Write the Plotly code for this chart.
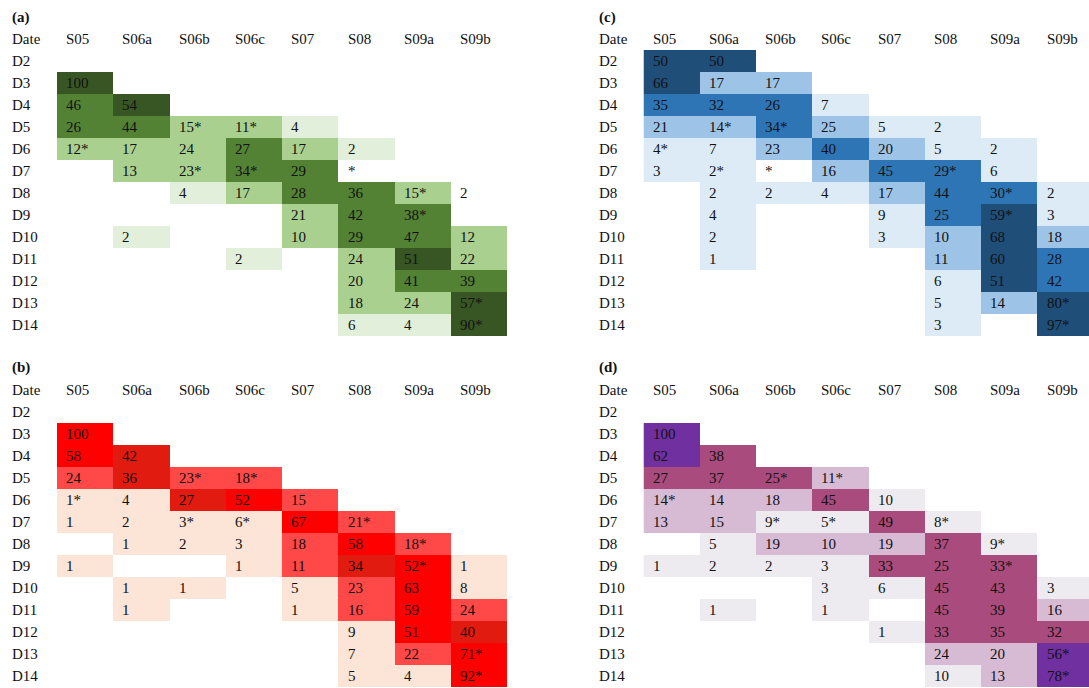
import plotly.graph_objects as go

N = None

COLUMNS = ["S05", "S06a", "S06b", "S06c", "S07", "S08", "S09a", "S09b"]
DATES = ["D2", "D3", "D4", "D5", "D6", "D7", "D8", "D9", "D10", "D11", "D12", "D13", "D14"]

# ---- (a) -------------------------------------------------------------
A_VALUES = [
    [N, N, N, N, N, N, N, N],
    [100, N, N, N, N, N, N, N],
    [46, 54, N, N, N, N, N, N],
    [26, 44, 15, 11, 4, N, N, N],
    [12, 17, 24, 27, 17, 2, N, N],
    [N, 13, 23, 34, 29, N, N, N],
    [N, N, 4, 17, 28, 36, 15, 2],
    [N, N, N, N, 21, 42, 38, N],
    [N, 2, N, N, 10, 29, 47, 12],
    [N, N, N, 2, N, 24, 51, 22],
    [N, N, N, N, N, 20, 41, 39],
    [N, N, N, N, N, 18, 24, 57],
    [N, N, N, N, N, 6, 4, 90],
]
A_LEVELS = [
    [0, 0, 0, 0, 0, 0, 0, 0],
    [4, 0, 0, 0, 0, 0, 0, 0],
    [3, 4, 0, 0, 0, 0, 0, 0],
    [3, 3, 2, 2, 1, 0, 0, 0],
    [2, 2, 2, 3, 2, 1, 0, 0],
    [0, 2, 2, 3, 3, 0, 0, 0],
    [0, 0, 1, 2, 3, 3, 2, 0],
    [0, 0, 0, 0, 2, 3, 3, 0],
    [0, 1, 0, 0, 2, 3, 3, 2],
    [0, 0, 0, 1, 0, 2, 4, 2],
    [0, 0, 0, 0, 0, 2, 3, 3],
    [0, 0, 0, 0, 0, 2, 2, 4],
    [0, 0, 0, 0, 0, 1, 1, 4],
]
A_STARS = [("D5", "S06b"), ("D5", "S06c"), ("D6", "S05"), ("D7", "S06b"), ("D7", "S06c"),
           ("D7", "S08"), ("D8", "S09a"), ("D9", "S09a"), ("D13", "S09b"), ("D14", "S09b")]

# ---- (b) -------------------------------------------------------------
B_VALUES = [
    [N, N, N, N, N, N, N, N],
    [100, N, N, N, N, N, N, N],
    [58, 42, N, N, N, N, N, N],
    [24, 36, 23, 18, N, N, N, N],
    [1, 4, 27, 52, 15, N, N, N],
    [1, 2, 3, 6, 67, 21, N, N],
    [N, 1, 2, 3, 18, 58, 18, N],
    [1, N, N, 1, 11, 34, 52, 1],
    [N, 1, 1, N, 5, 23, 63, 8],
    [N, 1, N, N, 1, 16, 59, 24],
    [N, N, N, N, N, 9, 51, 40],
    [N, N, N, N, N, 7, 22, 71],
    [N, N, N, N, N, 5, 4, 92],
]
B_LEVELS = [
    [0, 0, 0, 0, 0, 0, 0, 0],
    [4, 0, 0, 0, 0, 0, 0, 0],
    [4, 3, 0, 0, 0, 0, 0, 0],
    [2, 3, 2, 2, 0, 0, 0, 0],
    [1, 1, 3, 4, 2, 0, 0, 0],
    [1, 1, 1, 1, 4, 2, 0, 0],
    [0, 1, 1, 1, 2, 4, 2, 0],
    [1, 0, 0, 1, 2, 3, 4, 1],
    [0, 1, 1, 0, 1, 2, 4, 1],
    [0, 1, 0, 0, 1, 2, 4, 2],
    [0, 0, 0, 0, 0, 1, 4, 3],
    [0, 0, 0, 0, 0, 1, 2, 4],
    [0, 0, 0, 0, 0, 1, 1, 4],
]
B_STARS = [("D5", "S06b"), ("D5", "S06c"), ("D6", "S05"), ("D7", "S06b"), ("D7", "S06c"),
           ("D7", "S08"), ("D8", "S09a"), ("D9", "S09a"), ("D13", "S09b"), ("D14", "S09b")]

# ---- (c) -------------------------------------------------------------
C_VALUES = [
    [50, 50, N, N, N, N, N, N],
    [66, 17, 17, N, N, N, N, N],
    [35, 32, 26, 7, N, N, N, N],
    [21, 14, 34, 25, 5, 2, N, N],
    [4, 7, 23, 40, 20, 5, 2, N],
    [3, 2, N, 16, 45, 29, 6, N],
    [N, 2, 2, 4, 17, 44, 30, 2],
    [N, 4, N, N, 9, 25, 59, 3],
    [N, 2, N, N, 3, 10, 68, 18],
    [N, 1, N, N, N, 11, 60, 28],
    [N, N, N, N, N, 6, 51, 42],
    [N, N, N, N, N, 5, 14, 80],
    [N, N, N, N, N, 3, N, 97],
]
C_LEVELS = [
    [4, 4, 0, 0, 0, 0, 0, 0],
    [4, 2, 2, 0, 0, 0, 0, 0],
    [3, 3, 3, 1, 0, 0, 0, 0],
    [2, 2, 3, 2, 1, 1, 0, 0],
    [1, 1, 2, 3, 2, 1, 1, 0],
    [1, 1, 0, 2, 3, 3, 1, 0],
    [0, 1, 1, 1, 2, 3, 3, 1],
    [0, 1, 0, 0, 1, 3, 4, 1],
    [0, 1, 0, 0, 1, 2, 4, 2],
    [0, 1, 0, 0, 0, 2, 4, 3],
    [0, 0, 0, 0, 0, 1, 4, 3],
    [0, 0, 0, 0, 0, 1, 2, 4],
    [0, 0, 0, 0, 0, 1, 0, 4],
]
C_STARS = [("D5", "S06a"), ("D5", "S06b"), ("D6", "S05"), ("D7", "S06a"), ("D7", "S06b"),
           ("D7", "S08"), ("D8", "S09a"), ("D9", "S09a"), ("D13", "S09b"), ("D14", "S09b")]

# ---- (d) -------------------------------------------------------------
D_VALUES = [
    [N, N, N, N, N, N, N, N],
    [100, N, N, N, N, N, N, N],
    [62, 38, N, N, N, N, N, N],
    [27, 37, 25, 11, N, N, N, N],
    [14, 14, 18, 45, 10, N, N, N],
    [13, 15, 9, 5, 49, 8, N, N],
    [N, 5, 19, 10, 19, 37, 9, N],
    [1, 2, 2, 3, 33, 25, 33, N],
    [N, N, N, 3, 6, 45, 43, 3],
    [N, 1, N, 1, N, 45, 39, 16],
    [N, N, N, N, 1, 33, 35, 32],
    [N, N, N, N, N, 24, 20, 56],
    [N, N, N, N, N, 10, 13, 78],
]
D_LEVELS = [
    [0, 0, 0, 0, 0, 0, 0, 0],
    [4, 0, 0, 0, 0, 0, 0, 0],
    [4, 3, 0, 0, 0, 0, 0, 0],
    [3, 3, 3, 2, 0, 0, 0, 0],
    [2, 2, 2, 3, 1, 0, 0, 0],
    [2, 2, 1, 1, 3, 1, 0, 0],
    [0, 1, 2, 2, 2, 3, 1, 0],
    [1, 1, 1, 1, 3, 3, 3, 0],
    [0, 0, 0, 1, 1, 3, 3, 1],
    [0, 1, 0, 1, 0, 3, 3, 2],
    [0, 0, 0, 0, 1, 3, 3, 3],
    [0, 0, 0, 0, 0, 2, 2, 4],
    [0, 0, 0, 0, 0, 1, 2, 4],
]
D_STARS = [("D5", "S06b"), ("D5", "S06c"), ("D6", "S05"), ("D7", "S06b"), ("D7", "S06c"),
           ("D7", "S08"), ("D8", "S09a"), ("D9", "S09a"), ("D13", "S09b"), ("D14", "S09b")]

# Fill colours for levels 1..4 of each table
GREENS = ["#E2EFDA", "#A9D08E", "#548235", "#375623"]
REDS = ["#FCE4D6", "#FF4848", "#E21B10", "#FF0000"]
BLUES = ["#DDEBF7", "#9DC3E6", "#2E75B6", "#1F4E79"]
PURPLES = ["#EDEBEF", "#D7BAD4", "#A94B7C", "#7030A0"]

# ---- page geometry (pixels) -----------------------------------------
W, H = 1089, 688
LABEL_X = 10
GRID_X0 = 57
COL_W = 56.3
TAG_Y = 17
HEAD_Y = 39
GRID_Y0 = 50
ROW_H = 22
PAD = 7
FONT = dict(family="Liberation Serif", size=15, color="#111111")

panels = [
    ("(a)", A_VALUES, A_LEVELS, A_STARS, GREENS, (0, 0)),
    ("(b)", B_VALUES, B_LEVELS, B_STARS, REDS, (0, 351)),
    ("(c)", C_VALUES, C_LEVELS, C_STARS, BLUES, (586.5, 0)),
    ("(d)", D_VALUES, D_LEVELS, D_STARS, PURPLES, (586.5, 351)),
]


def step_scale(colors):
    n = len(colors)
    scale = []
    for i, c in enumerate(colors):
        scale.append([i / n, c])
        scale.append([(i + 1) / n, c])
    return scale


fig = go.Figure()
annotations = []
layout_axes = {}

for k, (tag, values, levels, stars, colors, (ox, oy)) in enumerate(panels, start=1):
    xa, ya = f"x{k}", f"y{k}"
    z = [[lv if lv > 0 else None for lv in row] for row in levels]
    fig.add_trace(go.Heatmap(
        z=z, x=COLUMNS, y=DATES, xaxis=xa, yaxis=ya,
        colorscale=step_scale(colors), zmin=0.5, zmax=len(colors) + 0.5,
        showscale=False, hoverinfo="skip", xgap=0, ygap=0,
    ))

    x0 = ox + GRID_X0
    x1 = min(x0 + len(COLUMNS) * COL_W, W)
    y_top = oy + GRID_Y0
    y_bot = min(y_top + len(DATES) * ROW_H, H)
    layout_axes[f"xaxis{k}"] = dict(
        domain=[x0 / W, x1 / W], range=[-0.5, -0.5 + (x1 - x0) / COL_W],
        type="category", categoryorder="array", categoryarray=COLUMNS,
        visible=False, anchor=ya, fixedrange=True,
    )
    layout_axes[f"yaxis{k}"] = dict(
        domain=[1 - y_bot / H, 1 - y_top / H],
        range=[-0.5 + (y_bot - y_top) / ROW_H, -0.5],
        type="category", categoryorder="array", categoryarray=DATES,
        visible=False, anchor=xa, fixedrange=True,
    )

    # panel tag and header row
    annotations.append(dict(xref="paper", yref="paper", x=(ox + LABEL_X) / W, y=1 - (oy + TAG_Y) / H,
                            text=f"<b>{tag}</b>", showarrow=False, xanchor="left", yanchor="middle", font=FONT))
    annotations.append(dict(xref="paper", yref="paper", x=(ox + LABEL_X) / W, y=1 - (oy + HEAD_Y) / H,
                            text="Date", showarrow=False, xanchor="left", yanchor="middle", font=FONT))
    for col in COLUMNS:
        annotations.append(dict(xref=xa, yref="paper", x=col, y=1 - (oy + HEAD_Y) / H, text=col,
                                showarrow=False, xanchor="left", yanchor="middle",
                                xshift=-COL_W / 2 + PAD, font=FONT))
    # row labels
    for d in DATES:
        annotations.append(dict(xref="paper", yref=ya, x=(ox + LABEL_X) / W, y=d, text=d,
                                showarrow=False, xanchor="left", yanchor="middle", font=FONT))
    # cell values
    starred = set(stars)
    for r, d in enumerate(DATES):
        for c, col in enumerate(COLUMNS):
            v = values[r][c]
            label = "" if v is None else str(v)
            if (d, col) in starred:
                label += "*"
            if not label:
                continue
            annotations.append(dict(xref=xa, yref=ya, x=col, y=d, text=label, showarrow=False,
                                    xanchor="left", yanchor="middle", xshift=-COL_W / 2 + PAD, font=FONT))

fig.update_layout(
    width=W, height=H, margin=dict(l=0, r=0, t=0, b=0),
    paper_bgcolor="white", plot_bgcolor="rgba(0,0,0,0)",
    showlegend=False, annotations=annotations, font=FONT,
    **layout_axes,
)

fig.write_html("out.html")
